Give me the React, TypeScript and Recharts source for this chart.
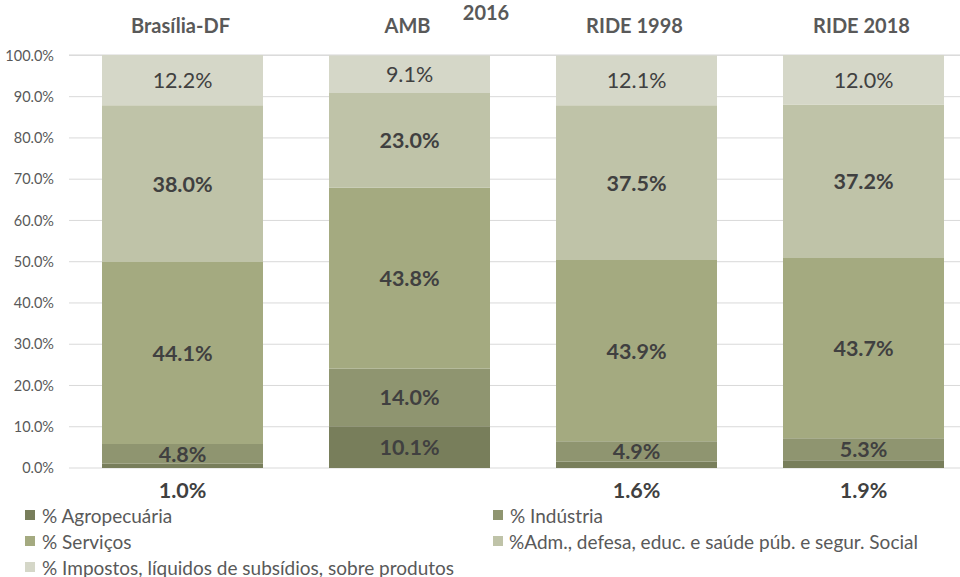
import { Bar, BarChart, CartesianGrid, LabelList, XAxis, YAxis } from "recharts"

const regions = ["Brasília-DF", "AMB", "RIDE 1998", "RIDE 2018"]
const agro = [1.0, 10.1, 1.6, 1.9]
const industria = [4.8, 14.0, 4.9, 5.3]
const servicos = [44.1, 43.8, 43.9, 43.7]
const adm = [38.0, 23.0, 37.5, 37.2]
const impostos = [12.2, 9.1, 12.1, 12.0]
const yTicks = [0, 10, 20, 30, 40, 50, 60, 70, 80, 90, 100]

const series = [
    { key: "agro", name: "% Agropecuária", color: "#787e5b", bold: true },
    { key: "industria", name: "% Indústria", color: "#8f9570", bold: true },
    { key: "servicos", name: "% Serviços", color: "#a4aa80", bold: true },
    { key: "adm", name: "%Adm., defesa, educ. e saúde púb. e segur. Social", color: "#bfc3a8", bold: true },
    { key: "impostos", name: "% Impostos, líquidos de subsídios, sobre produtos", color: "#d5d7c8", bold: false },
]

const data = regions.map((name, i) => ({
    name,
    agro: agro[i],
    industria: industria[i],
    servicos: servicos[i],
    adm: adm[i],
    impostos: impostos[i],
}))

const FONT = "Lato, 'Open Sans', sans-serif"

function makeLabel(bold: boolean, outsideSmall: boolean) {
    return (props: any) => {
        const { x, y, width, height, value } = props
        const small = outsideSmall && value < 5
        const cx = Number(x) + Number(width) / 2
        const cy = small ? Number(y) + Number(height) + 22 : Number(y) + Number(height) / 2
        return (
            <text
                x={cx}
                y={cy}
                textAnchor="middle"
                dominantBaseline="central"
                fontFamily={FONT}
                fontSize={21.5}
                fontWeight={bold ? 700 : 400}
                fill="#404040"
            >
                {Number(value).toFixed(1)}%
            </text>
        )
    }
}

function TopTick(props: any) {
    const { x, payload } = props
    return (
        <text x={x - 2} y={33} textAnchor="middle" fontFamily={FONT} fontSize={20} fontWeight={700} fill="#595959">
            {payload.value}
        </text>
    )
}

export default function App() {
    return (
        <div style={{ position: "fixed", left: 0, top: 0, width: 960, height: 577, overflow: "hidden", background: "#fff", fontFamily: FONT }}>
            <svg width={960} height={30} style={{ position: "absolute", left: 0, top: 0 }}>
                <text x={486} y={20} textAnchor="middle" fontFamily={FONT} fontSize={20} fontWeight={700} fill="#595959">
                    2016
                </text>
            </svg>
            <BarChart width={977} height={577} data={data} margin={{ top: 0, right: 0, bottom: 109, left: 0 }}>
                <CartesianGrid vertical={false} stroke="#d9d9d9" />
                <XAxis dataKey="name" orientation="top" height={55} axisLine={false} tickLine={false} tick={<TopTick />} />
                <YAxis
                    domain={[0, 100]}
                    ticks={yTicks}
                    width={69}
                    axisLine={false}
                    tickLine={false}
                    tickSize={0}
                    tickMargin={15}
                    tick={{ fontSize: 14.5, fill: "#595959", fontFamily: FONT }}
                    tickFormatter={(v) => `${Number(v).toFixed(1)}%`}
                />
                {series.map((s, i) => (
                    <Bar key={s.key} dataKey={s.key} name={s.name} stackId="a" fill={s.color} barSize={161} isAnimationActive={false}>
                        <LabelList dataKey={s.key} content={makeLabel(s.bold, i === 0)} />
                    </Bar>
                ))}
            </BarChart>
            <div style={{ position: "absolute", left: 25, top: 502, display: "grid", gridTemplateColumns: "468px 460px", fontSize: 19, color: "#595959" }}>
                {series.map((s, i) => (
                    <div key={s.key} style={{ display: "flex", alignItems: "center", height: 26, whiteSpace: "nowrap" }}>
                        <span style={{ display: "inline-block", width: 10, height: 10, background: s.color, marginRight: i === 3 ? 6 : 7, flexShrink: 0 }} />
                        {s.name}
                    </div>
                ))}
            </div>
        </div>
    )
}
